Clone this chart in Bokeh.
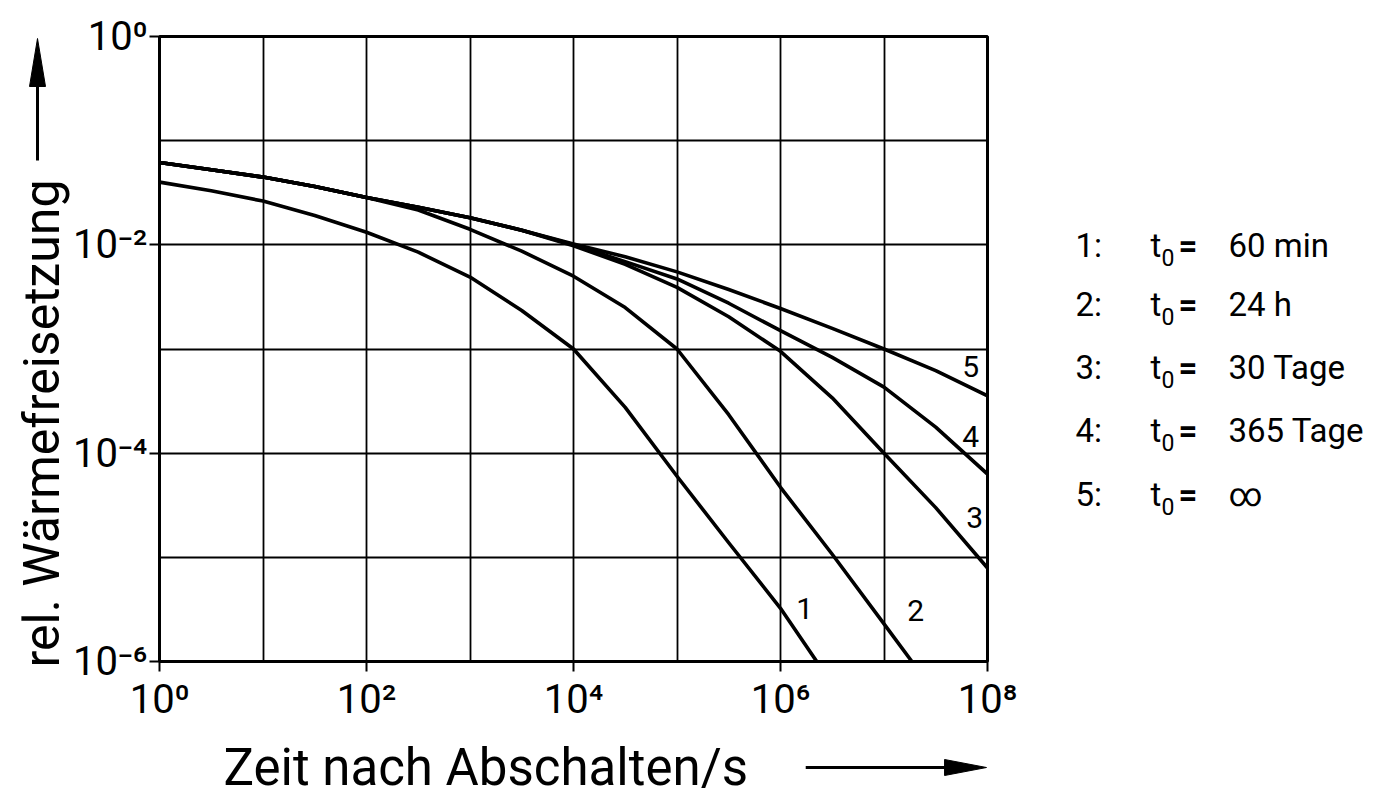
import math
from bokeh.plotting import figure
from bokeh.layouts import row, column
from bokeh.models import FixedTicker, CustomJSTickFormatter, ColumnDataSource, Range1d
from bokeh.core.properties import value
from bokeh.embed import file_html
from bokeh.resources import INLINE

# ---------------- data ----------------
# curve 1: t0 = 60 min
t1 = [1, 3.16, 10, 31.6, 100, 316, 1e3, 3.16e3, 1e4, 3.16e4, 1e5, 3.16e5, 1e6, 2.24e6]
p1 = [4.0e-2, 3.3e-2, 2.63e-2, 1.91e-2, 1.32e-2, 8.5e-3, 4.9e-3, 2.34e-3, 1.0e-3, 2.75e-4, 6.0e-5, 1.38e-5, 3.24e-6, 1.0e-6]
# curve 2: t0 = 24 h
t2 = [1, 3.16, 10, 31.6, 100, 316, 1e3, 3.16e3, 1e4, 3.16e4, 1e5, 3.16e5, 1e6, 3.16e6, 1e7, 1.86e7]
p2 = [6.17e-2, 5.25e-2, 4.47e-2, 3.63e-2, 2.85e-2, 2.16e-2, 1.41e-2, 8.7e-3, 5.0e-3, 2.5e-3, 1.0e-3, 2.34e-4, 4.7e-5, 1.07e-5, 2.3e-6, 1.0e-6]
# curves 3-5
t345 = [1, 3.16, 10, 31.6, 100, 316, 1e3, 3.16e3, 1e4, 3.16e4, 1e5, 3.16e5, 1e6, 3.16e6, 1e7, 3.16e7, 1e8]
p3 = [6.17e-2, 5.25e-2, 4.47e-2, 3.63e-2, 2.85e-2, 2.29e-2, 1.82e-2, 1.38e-2, 9.8e-3, 6.5e-3, 3.9e-3, 2.04e-3, 9.5e-4, 3.4e-4, 1.0e-4, 3.0e-5, 7.9e-6]
p4 = [6.17e-2, 5.25e-2, 4.47e-2, 3.63e-2, 2.85e-2, 2.29e-2, 1.82e-2, 1.38e-2, 1.0e-2, 6.9e-3, 4.7e-3, 2.75e-3, 1.5e-3, 8.3e-4, 4.3e-4, 1.78e-4, 6.3e-5]
p5 = [6.17e-2, 5.25e-2, 4.47e-2, 3.63e-2, 2.85e-2, 2.29e-2, 1.82e-2, 1.38e-2, 1.02e-2, 7.67e-3, 5.5e-3, 3.72e-3, 2.45e-3, 1.58e-3, 1.0e-3, 6.2e-4, 3.55e-4]

curve_label_text = ["1", "2", "3", "4", "5"]
curve_label_t = [1.71e6, 2.02e7, 7.5e7, 6.86e7, 6.86e7]
curve_label_p = [3.2e-6, 3.1e-6, 2.4e-5, 1.45e-4, 6.8e-4]

legend_numbers = ["1:", "2:", "3:", "4:", "5:"]
legend_values = ["60 min", "24 h", "30 Tage", "365 Tage", "\u221e"]

x_ticks = [1e0, 1e2, 1e4, 1e6, 1e8]
x_tick_labels = ["10\u2070", "10\u00b2", "10\u2074", "10\u2076", "10\u2078"]
y_ticks = [1e0, 1e-2, 1e-4, 1e-6]
y_tick_labels = ["10\u2070", "10\u207b\u00b2", "10\u207b\u2074", "10\u207b\u2076"]
x_grid = [1e0, 1e1, 1e2, 1e3, 1e4, 1e5, 1e6, 1e7, 1e8]
y_grid = [1e-6, 1e-5, 1e-4, 1e-3, 1e-2, 1e-1, 1e0]

x_label = "Zeit nach Abschalten/s"
y_label = "rel. W\u00e4rmefreisetzung"

# ---------------- layout ----------------
FONT = "Roboto"
LW, RW, TOT_H = 70, 346, 800
BL, BR, BT, BB = 88, 45, 36, 64          # main figure borders
FW, FH = 829, 625                        # plot frame size
MW, MH = BL + FW + BR, BT + FH + BB


def strip(w, h, border_left=0, border_right=0):
    f = figure(width=w, height=h, x_range=Range1d(0, w - border_left - border_right),
               y_range=Range1d(h, 0), min_border=0,
               min_border_left=border_left, min_border_right=border_right,
               toolbar_location=None, output_backend="svg",
               x_axis_location=None, y_axis_location=None)
    f.outline_line_color = None
    f.background_fill_color = "white"
    f.border_fill_color = "white"
    for g in f.grid:
        g.visible = False
    return f


# main chart
p = figure(width=MW, height=MH, x_axis_type="log", y_axis_type="log",
           x_range=Range1d(1, 1e8), y_range=Range1d(1e-6, 1),
           output_backend="svg", toolbar_location=None,
           min_border_left=BL, min_border_right=BR, min_border_top=BT, min_border_bottom=BB)
p.background_fill_color = "white"
p.border_fill_color = "white"
p.outline_line_color = "black"
p.outline_line_width = 3
p.outline_line_alpha = 1

fmt_code = """
const i = tick_vals.findIndex(t => Math.abs(Math.log10(t) - Math.log10(tick)) < 1e-6);
return i >= 0 ? tick_texts[i] : "";
"""
for ax, tv, tl, standoff in ((p.xaxis, x_ticks, x_tick_labels, 4),
                             (p.yaxis, y_ticks, y_tick_labels, 2)):
    ax.ticker = FixedTicker(ticks=tv)
    ax.formatter = CustomJSTickFormatter(args=dict(tick_vals=tv, tick_texts=tl), code=fmt_code)
    ax.axis_line_width = 3
    ax.axis_line_color = "black"
    ax.major_tick_line_width = 2
    ax.major_tick_line_color = "black"
    ax.major_tick_out = 10
    ax.major_tick_in = 0
    ax.minor_tick_line_color = None
    ax.major_label_text_font = FONT
    ax.major_label_text_font_size = "40px"
    ax.major_label_text_color = "black"
    ax.major_label_standoff = standoff

p.xgrid.ticker = FixedTicker(ticks=x_grid)
p.ygrid.ticker = FixedTicker(ticks=y_grid)
for g in (p.xgrid, p.ygrid):
    g.grid_line_color = "black"
    g.grid_line_alpha = 1
    g.grid_line_width = 1.8

for t, v in ((t1, p1), (t2, p2), (t345, p3), (t345, p4), (t345, p5)):
    p.line(t, v, line_color="black", line_width=3.6, line_join="round")

src = ColumnDataSource(dict(x=curve_label_t, y=curve_label_p, text=curve_label_text))
p.text(x="x", y="y", text="text", source=src, text_font=value(FONT),
       text_font_size="30px", text_align="center", text_baseline="middle", text_color="black")

# left strip: y title and arrow (coordinates = pixels from the strip's top-left)
left = strip(LW, TOT_H)
left.text(x=[41], y=[667], text=[y_label], angle=math.pi / 2, text_font=value(FONT),
          text_font_size="50px", text_align="left", text_baseline="middle", text_color="black")
left.segment(x0=[37], y0=[160], x1=[37], y1=[80], line_width=3, line_color="black")
left.patch(x=[29, 37, 45], y=[86, 38, 86], fill_color="black", line_color="black")

# bottom strip: x title and arrow (x measured from the plot frame's left edge)
bottom = strip(MW, TOT_H - MH, border_left=BL, border_right=BR)
bottom.text(x=[64], y=[42], text=[x_label], text_font=value(FONT), text_font_size="51px",
            text_align="left", text_baseline="middle", text_color="black")
bottom.segment(x0=[647], y0=[42], x1=[792], y1=[42], line_width=3, line_color="black")
bottom.patch(x=[786, 828, 786], y=[34, 42, 50], fill_color="black", line_color="black")

# right strip: legend text
right = strip(RW, TOT_H)
row_centers = [245, 304, 367, 430, 494]
for num, val, cy in zip(legend_numbers, legend_values, row_centers):
    for x, txt, size, style, yy in ((43, num, "33px", "normal", cy),
                                     (118, "t", "33px", "normal", cy),
                                     (129, "0", "23px", "normal", cy + 12),
                                     (146, "=", "33px", "bold", cy),
                                     (196, val, "33px", "normal", cy)):
        right.text(x=[x], y=[yy], text=[txt], text_font=value(FONT), text_font_size=size,
                   text_font_style=style, text_align="left", text_baseline="middle",
                   text_color="black")

layout = row(left, column(p, bottom), right)
open("out.html", "w").write(file_html(layout, INLINE))
